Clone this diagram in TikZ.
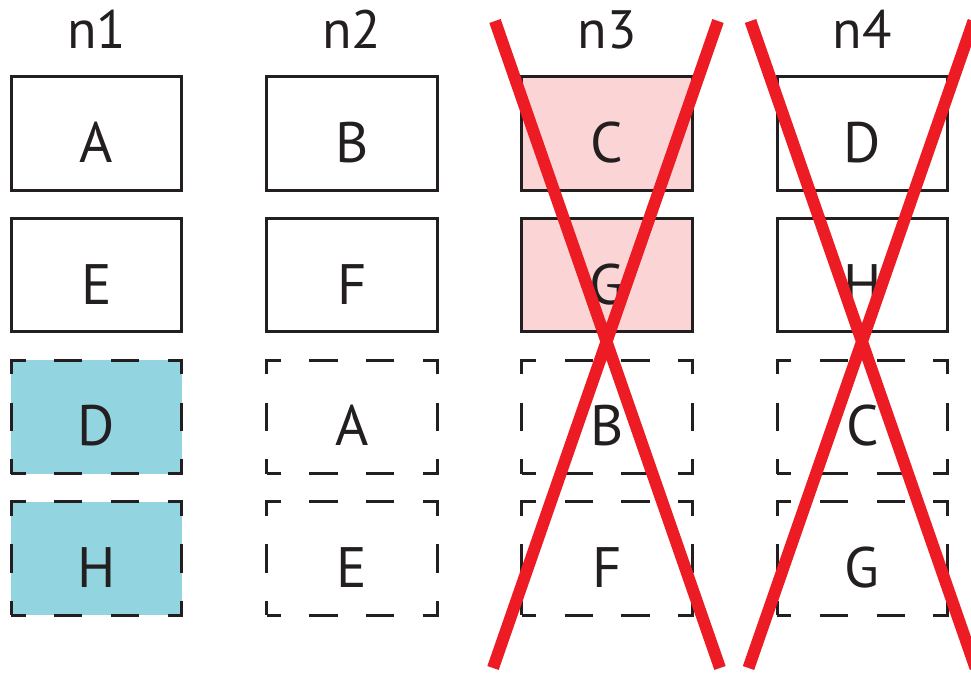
\documentclass[tikz,border=0pt]{standalone}
\usepackage{fontspec}
\setmainfont{PT Sans}
\usetikzlibrary{positioning}
\definecolor{inkblack}{HTML}{231F20}
\definecolor{droppink}{HTML}{FBD5D6}
\definecolor{movedcyan}{HTML}{92D5E0}
\definecolor{crossred}{HTML}{ED1C24}

\begin{document}
\begin{tikzpicture}[x=1pt,y=1pt,node distance=28.1pt and 84.9pt,
    box/.style={draw=inkblack,line width=3pt,outer sep=0pt,inner sep=0pt,
      minimum width=170.4pt,minimum height=113.6pt,text=inkblack,
      text height=58pt,text depth=0pt,font=\fontsize{57}{60}\selectfont},
    copy/.style={box,dash pattern=on 28.4pt off 28.4pt,dash phase=14.2pt},
    lost/.style={fill=droppink},
    moved/.style={fill=movedcyan},
    head/.style={text=inkblack,font=\fontsize{54}{58}\selectfont},
    cross/.style={draw=crossred,line width=12pt}]
    \useasboundingbox (0,0) rectangle (971,672);
    \clip (0,0) rectangle (971,672);
    % boxes
      \node[box] (11) at (96.5,538.5) {A};
      \node[box] (12) [below = of 11] {E};
      \node[copy,moved] (13) [below = of 12] {D};
      \node[copy,moved] (14) [below = of 13] {H};
      \node[box] (21) [right = of 11] {B};
      \node[box] (22) [below = of 21] {F};
      \node[copy] (23) [below = of 22] {A};
      \node[copy] (24) [below = of 23] {E};
      \node[box,lost] (31) [right = of 21] {C};
      \node[box,lost] (32) [below = of 31] {G};
      \node[copy] (33) [below = of 32] {B};
      \node[copy] (34) [below = of 33] {F};
      \node[box] (41) [right = of 31] {D};
      \node[box] (42) [below = of 41] {H};
      \node[copy] (43) [below = of 42] {C};
      \node[copy] (44) [below = of 43] {G};
    % heads
      \node[head] (h1) [above = 28.2pt of 11, anchor=base] {n1};
      \node[head] (h2) [above = 28.2pt of 21, anchor=base] {n2};
      \node[head] (h3) [above = 28.2pt of 31, anchor=base] {n3};
      \node[head] (h4) [above = 28.2pt of 41, anchor=base] {n4};
    % crosses
      \coordinate (3tl) at (495,651);
      \coordinate (3tr) at (718,651);
      \coordinate (3bl) at (493,4);
      \coordinate (3br) at (720,4);
      \coordinate (4tl) at (750.5,651);
      \coordinate (4tr) at (973.5,651);
      \coordinate (4bl) at (748.5,4);
      \coordinate (4br) at (975.5,4);
      \path[cross]
        (3tl) -- (3br)
        (3tr) -- (3bl)
        (4tl) -- (4br)
        (4tr) -- (4bl);
    \end{tikzpicture}
\end{document}
